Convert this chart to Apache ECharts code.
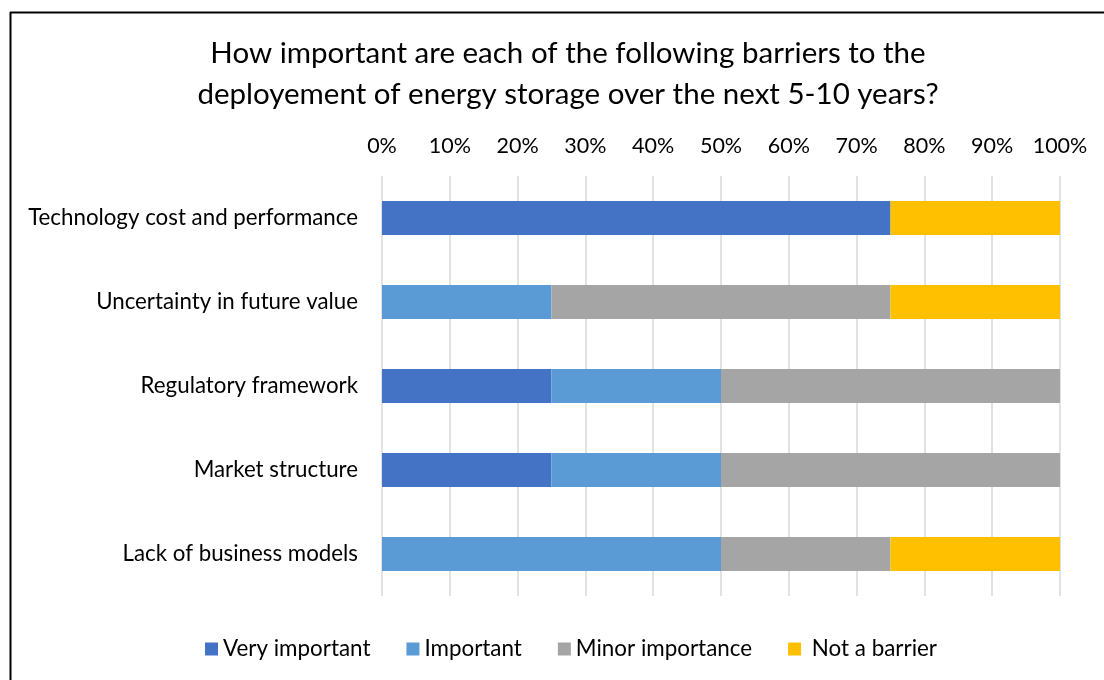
<!DOCTYPE html>
<html>
<head>
<meta charset="utf-8">
<script src="https://cdn.jsdelivr.net/npm/echarts@6/dist/echarts.min.js"></script>
<style>
  html, body { margin: 0; padding: 0; background: #fff; }
  #chart { width: 1104px; height: 680px; }
</style>
</head>
<body>
<div id="chart"></div>
<script>
// Survey: importance of barriers to energy storage deployment (share of responses, %)
const categories = [
  'Technology cost and performance',
  'Uncertainty in future value',
  'Regulatory framework',
  'Market structure',
  'Lack of business models'
];
const seriesNames = ['Very important', 'Important', 'Minor importance', 'Not a barrier'];
const veryImportant = [75, 0, 25, 25, 0];
const important = [0, 25, 25, 25, 50];
const minorImportance = [0, 50, 50, 50, 25];
const notABarrier = [25, 25, 0, 0, 25];
const colors = ['#4472C4', '#5B9BD5', '#A5A5A5', '#FFC000'];

const FONT = 'Lato, "Open Sans", sans-serif';
const values = [veryImportant, important, minorImportance, notABarrier];

const chart = echarts.init(document.getElementById('chart'), null, { renderer: 'canvas' });
chart.setOption({
  backgroundColor: '#ffffff',
  animation: false,
  title: {
    text: 'How important are each of the following barriers to the\ndeployement of energy storage over the next 5-10 years?',
    left: 563,
    textAlign: 'center',
    top: 28,
    textStyle: { fontFamily: FONT, fontSize: 29.5, fontWeight: 'normal', color: '#000', lineHeight: 41 }
  },
  legend: {
    bottom: 15,
    left: 200,
    itemWidth: 13,
    itemHeight: 13,
    itemGap: 36,
    icon: 'rect',
    data: seriesNames,
    formatter: name => (name === 'Not a barrier' ? '\u00a0' + name : name),
    textStyle: { fontFamily: FONT, fontSize: 22.4, color: '#000' }
  },
  grid: { left: 382, right: 44, top: 176, bottom: 84, containLabel: false },
  xAxis: {
    type: 'value',
    position: 'top',
    min: 0,
    max: 100,
    interval: 10,
    axisLine: { show: false },
    axisTick: { show: false },
    axisLabel: { formatter: '{value}%', fontFamily: FONT, fontSize: 21.5, color: '#000', margin: 19 },
    splitLine: { show: true, lineStyle: { color: '#d9d9d9', width: 1.5 } }
  },
  yAxis: {
    type: 'category',
    inverse: true,
    data: categories,
    axisLine: { show: false },
    axisTick: { show: false },
    axisLabel: { fontFamily: FONT, fontSize: 22.3, color: '#000', margin: 24 }
  },
  series: seriesNames.map((name, i) => ({
    name: name,
    type: 'bar',
    stack: 'total',
    barWidth: 34,
    itemStyle: { color: colors[i] },
    data: values[i]
  })),
  graphic: [
    { type: 'line', shape: { x1: 10, y1: 12.5, x2: 1104, y2: 12.5 }, style: { stroke: '#000', lineWidth: 2 } },
    { type: 'line', shape: { x1: 10.5, y1: 12, x2: 10.5, y2: 680 }, style: { stroke: '#000', lineWidth: 2 } }
  ]
});
</script>
</body>
</html>
